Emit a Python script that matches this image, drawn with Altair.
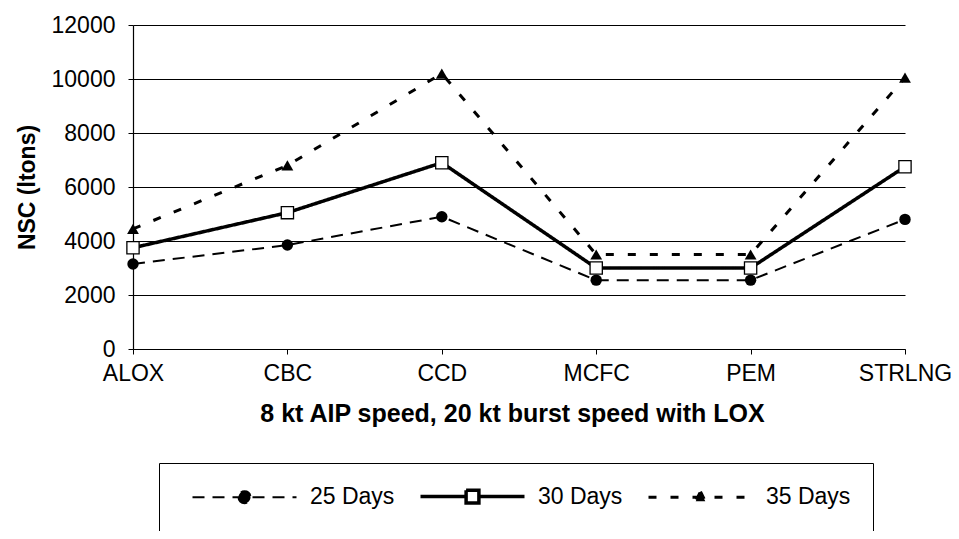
import altair as alt
import pandas as pd

categories = ["ALOX", "CBC", "CCD", "MCFC", "PEM", "STRLNG"]
series_names = ["25 Days", "30 Days", "35 Days"]
days25 = [3150, 3850, 4900, 2550, 2550, 4800]
days30 = [3750, 5050, 6900, 3000, 3000, 6750]
days35 = [4450, 6800, 10200, 3500, 3500, 10050]
y_ticks = [0, 2000, 4000, 6000, 8000, 10000, 12000]

rows = []
for name, vals in zip(series_names, [days25, days30, days35]):
    for c, v in zip(categories, vals):
        rows.append({"system": c, "series": name, "nsc": v})
df = pd.DataFrame(rows)

FONT = "Liberation Sans"
W, H = 772, 324

x_enc = alt.X(
    "system:N",
    sort=categories,
    scale=alt.Scale(type="point", padding=0),
    axis=alt.Axis(
        title="8 kt AIP speed, 20 kt burst speed with LOX",
        labelAngle=0,
        labelFont=FONT, labelFontSize=23, labelColor="black",
        labelPadding=8, tickSize=5, tickColor="black",
        domainColor="black", domainWidth=1.2,
        titleFont=FONT, titleFontSize=25, titleFontWeight="bold", titleColor="black",
        titleX=379, titleY=64, titleBaseline="middle", titleAlign="center",
        grid=False, labelBound=False, labelOverlap=False,
    ),
)
y_enc = alt.Y(
    "nsc:Q",
    scale=alt.Scale(domain=[0, 12000], nice=False),
    axis=alt.Axis(
        title="NSC (ltons)",
        values=y_ticks, format="d",
        labelFont=FONT, labelFontSize=23, labelColor="black",
        labelPadding=13, tickSize=5, tickColor="black",
        domainColor="black", domainWidth=1.2,
        grid=True, gridColor="black", gridWidth=1,
        titleFont=FONT, titleFontSize=23, titleFontWeight="bold", titleColor="black",
        titleX=-106, titleY=162, titleBaseline="middle", titleAlign="center", titleAngle=-90,
    ),
)

dashes = [[12, 8], [1, 0], [8, 14]]
widths = [2, 3.5, 3]

dash_scale = alt.Scale(domain=series_names, range=dashes)
width_scale = alt.Scale(type="ordinal", domain=series_names, range=widths)
stroke_scale = alt.Scale(domain=series_names, range=["black", "black", "black"])

# legend symbols: line sample + marker as custom paths
legend_shapes = [
    "M-13,0L13,0M-1.5,0A1.5,1.5,0,1,0,1.5,0A1.5,1.5,0,1,0,-1.5,0Z",
    "M-13,0L-1.6,0M1.6,0L13,0M-1.6,-1.6L1.6,-1.6L1.6,1.6L-1.6,1.6L-1.6,-1.6L-1.6,1.6L1.6,1.6L1.6,-1.6L-1.6,-1.6",
    "M-13,0L13,0M0,-1.4L1.2,1.0L-1.2,1.0Z",
]
shape_scale = alt.Scale(domain=series_names, range=legend_shapes)

base = alt.Chart(df)

layers = []
for name, d, w in zip(series_names, dashes, widths):
    layers.append(
        base.transform_filter(alt.datum.series == name)
        .mark_line(color="black", strokeDash=d, strokeWidth=w)
        .encode(x=x_enc, y=y_enc)
    )

layers.append(base.transform_filter(alt.datum.series == "25 Days").mark_point(
    shape="circle", filled=True, size=130, color="black", opacity=1
).encode(x=x_enc, y=y_enc))
layers.append(base.transform_filter(alt.datum.series == "30 Days").mark_point(
    shape="square", filled=True, size=150, fill="white", stroke="black", strokeWidth=1.3, opacity=1
).encode(x=x_enc, y=y_enc))
layers.append(base.transform_filter(alt.datum.series == "35 Days").mark_point(
    shape="triangle-up", filled=True, size=140, color="black", opacity=1
).encode(x=x_enc, y=y_enc))

legend_layer = base.transform_filter("false").mark_point(
    filled=True, size=64, fill="black", opacity=1
).encode(
    x=x_enc, y=y_enc,
    shape=alt.Shape("series:N", scale=shape_scale, title=None),
    stroke=alt.Stroke("series:N", scale=stroke_scale, title=None),
    strokeDash=alt.StrokeDash("series:N", scale=dash_scale, title=None),
    strokeWidth=alt.StrokeWidth("series:N", scale=width_scale, title=None),
)
layers.append(legend_layer)

chart = alt.layer(*layers).properties(
    width=W, height=H,
    autosize=alt.AutoSizeParams(type="none"),
    padding={"left": 125, "top": 17, "right": 46, "bottom": 182},
).configure_view(stroke=None).configure_legend(
    orient="none", legendX=26, legendY=438, direction="horizontal",
    strokeColor="black", fillColor="white", padding=22,
    labelFont=FONT, labelFontSize=23, labelColor="black",
    symbolStrokeColor="black", symbolSize=64, symbolOpacity=1,
    symbolOffset=52, labelOffset=54, columnPadding=14,
)

chart.save("out.html", embed_options={"renderer": "svg", "actions": False})
